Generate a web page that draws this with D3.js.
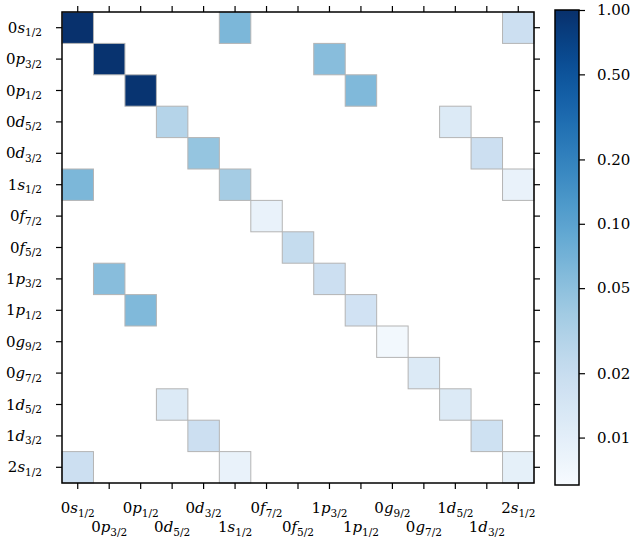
<!DOCTYPE html>
<html><head><meta charset="utf-8">
<script src="https://cdn.jsdelivr.net/npm/d3@7"></script>
<style>body{margin:0;background:#fff;} text{font-family:"DejaVu Serif",serif;}</style>
</head><body>
<svg id="chart" width="631" height="541"></svg>
<script>
const orbitals = ["0s1/2","0p3/2","0p1/2","0d5/2","0d3/2","1s1/2","0f7/2","0f5/2","1p3/2","1p1/2","0g9/2","0g7/2","1d5/2","1d3/2","2s1/2"];
// matrix rows (0 = empty cell)
const row0  = [0.98,0,0,0,0,0.063,0,0,0,0,0,0,0,0,0.018];
const row1  = [0,0.95,0,0,0,0,0,0,0.054,0,0,0,0,0,0];
const row2  = [0,0,0.93,0,0,0,0,0,0,0.060,0,0,0,0,0];
const row3  = [0,0,0,0.028,0,0,0,0,0,0,0,0,0.012,0,0];
const row4  = [0,0,0,0,0.045,0,0,0,0,0,0,0,0,0.018,0];
const row5  = [0.063,0,0,0,0,0.036,0,0,0,0,0,0,0,0,0.0086];
const row6  = [0,0,0,0,0,0,0.0086,0,0,0,0,0,0,0,0];
const row7  = [0,0,0,0,0,0,0,0.021,0,0,0,0,0,0,0];
const row8  = [0,0.054,0,0,0,0,0,0,0.018,0,0,0,0,0,0];
const row9  = [0,0,0.060,0,0,0,0,0,0,0.016,0,0,0,0,0];
const row10 = [0,0,0,0,0,0,0,0,0,0,0.0069,0,0,0,0];
const row11 = [0,0,0,0,0,0,0,0,0,0,0,0.012,0,0,0];
const row12 = [0,0,0,0.012,0,0,0,0,0,0,0,0,0.012,0,0];
const row13 = [0,0,0,0,0.018,0,0,0,0,0,0,0,0,0.017,0];
const row14 = [0.018,0,0,0,0,0.0086,0,0,0,0,0,0,0,0,0.0095];
const matrix = [row0,row1,row2,row3,row4,row5,row6,row7,row8,row9,row10,row11,row12,row13,row14];
const cbTicks = [1.00,0.50,0.20,0.10,0.05,0.02,0.01];
const vmin = 0.006, vmax = 1.0;

const svg = d3.select("#chart");
const L = 62, T = 12, R = 534, B = 483;
const fs = 15;

const x = d3.scaleBand().domain(d3.range(15)).range([L, R]);
const y = d3.scaleBand().domain(d3.range(15)).range([T, B]);
const logS = d3.scaleLog().domain([vmin, vmax]).range([0, 1]).clamp(true);
const color = v => d3.interpolateBlues(logS(v));

const cells = [];
matrix.forEach((r, i) => r.forEach((v, j) => { if (v > 0) cells.push({i, j, v}); }));

svg.append("g").selectAll("rect").data(cells).join("rect")
  .attr("x", d => x(d.j)).attr("y", d => y(d.i))
  .attr("width", x.bandwidth()).attr("height", y.bandwidth())
  .attr("fill", d => color(d.v))
  .attr("stroke", "#b4b4b4").attr("stroke-width", 1);

// frame
svg.append("rect").attr("x", L).attr("y", T).attr("width", R - L).attr("height", B - T)
  .attr("fill", "none").attr("stroke", "#000").attr("stroke-width", 1.5);

function label(sel, s) {
  const n = s[0], l = s[1], j = s.slice(2);
  sel.append("tspan").text(n);
  sel.append("tspan").attr("font-style", "italic").text(l);
  sel.append("tspan").attr("font-size", fs * 0.7).attr("dy", 3.5).text(j);
}

const tl = 6;
// ticks all four sides
const tk = svg.append("g").attr("stroke", "#000").attr("stroke-width", 1.2);
d3.range(15).forEach(k => {
  const cx = x(k) + x.bandwidth() / 2, cy = y(k) + y.bandwidth() / 2;
  tk.append("line").attr("x1", cx).attr("x2", cx).attr("y1", B).attr("y2", B + tl);
  tk.append("line").attr("x1", cx).attr("x2", cx).attr("y1", T).attr("y2", T - tl);
  tk.append("line").attr("x1", L).attr("x2", L - tl).attr("y1", cy).attr("y2", cy);
  tk.append("line").attr("x1", R).attr("x2", R + tl).attr("y1", cy).attr("y2", cy);
});

orbitals.forEach((s, k) => {
  const cy = y(k) + y.bandwidth() / 2;
  const t = svg.append("text").attr("x", 42).attr("y", cy + 5).attr("text-anchor", "end")
    .attr("font-size", fs).attr("fill", "#000");
  label(t, s);
  const cx = x(k) + x.bandwidth() / 2;
  const t2 = svg.append("text").attr("x", cx).attr("y", k % 2 === 0 ? 513 : 532)
    .attr("text-anchor", "middle").attr("font-size", fs).attr("fill", "#000");
  label(t2, s);
});

// colorbar
const cbX = 555, cbW = 24, cbT = 10, cbB = 485;
const cbScale = d3.scaleLog().domain([vmin, vmax]).range([cbB, cbT]);
const defs = svg.append("defs");
const grad = defs.append("linearGradient").attr("id", "cbg")
  .attr("x1", 0).attr("y1", 1).attr("x2", 0).attr("y2", 0);
d3.range(0, 1.0001, 0.02).forEach(t => grad.append("stop").attr("offset", t).attr("stop-color", d3.interpolateBlues(t)));
svg.append("rect").attr("x", cbX).attr("y", cbT).attr("width", cbW).attr("height", cbB - cbT)
  .attr("fill", "url(#cbg)").attr("stroke", "#000").attr("stroke-width", 1.5);
const cbAxis = d3.axisRight(cbScale).tickValues(cbTicks).tickFormat(d3.format(".2f")).tickSize(6).tickPadding(12);
const cbg = svg.append("g").attr("transform", `translate(${cbX + cbW},0)`).call(cbAxis);
cbg.select(".domain").remove();
cbg.selectAll("line").attr("stroke", "#000").attr("stroke-width", 1.2);
cbg.selectAll("text").attr("font-family", "DejaVu Serif").attr("font-size", fs).attr("fill", "#000");
</script>
</body></html>
